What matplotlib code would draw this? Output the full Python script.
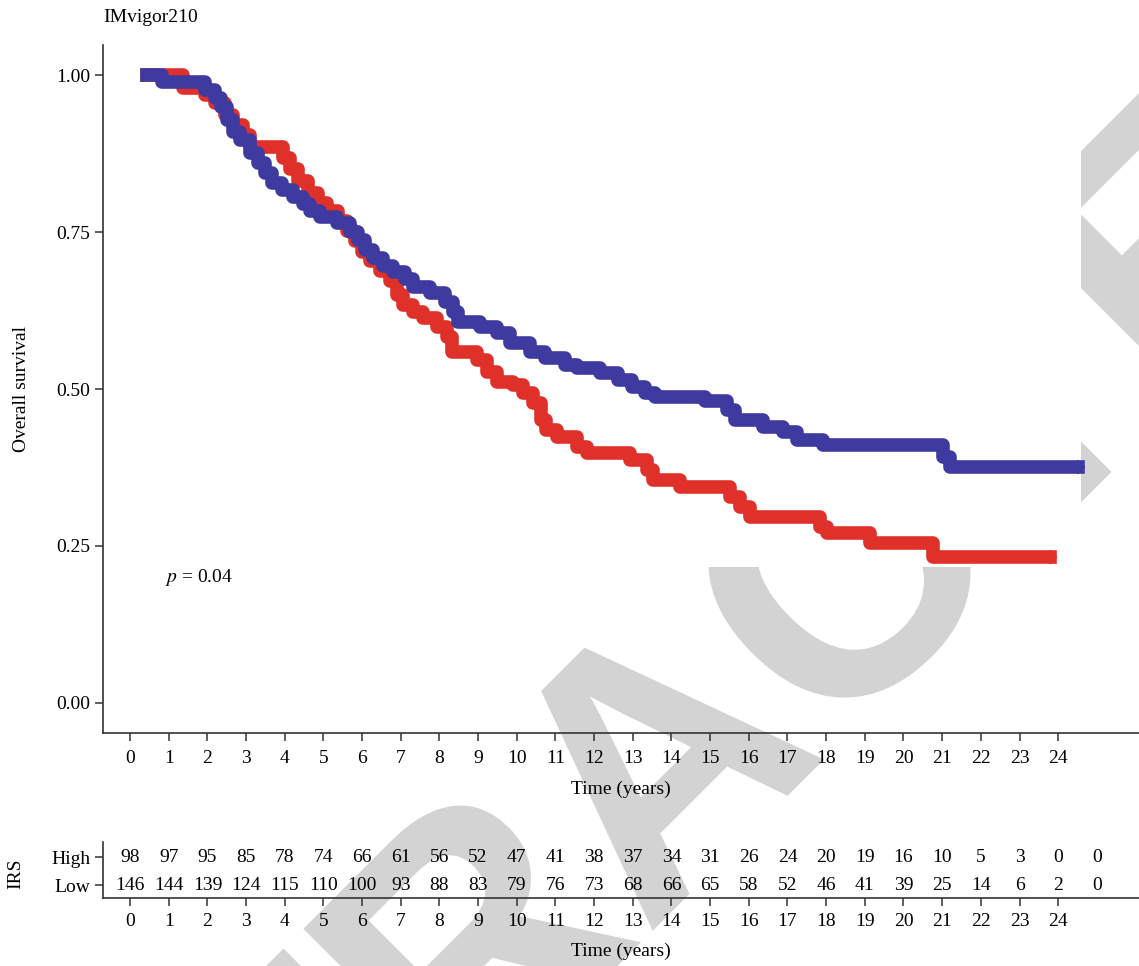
import matplotlib.pyplot as plt
import numpy as np
from matplotlib.path import Path
from matplotlib.patches import PathPatch
from matplotlib.textpath import TextPath
from matplotlib.font_manager import FontProperties
from matplotlib.transforms import Affine2D

plt.rcParams['font.family'] = ['Liberation Serif', 'DejaVu Serif']
plt.rcParams['mathtext.fontset'] = 'stix'

# Kaplan-Meier steps: time (years) of each drop and survival after it
high_t = [0.44, 1.37, 1.94, 2.20, 2.46, 2.66, 2.92, 3.10, 3.96, 4.14, 4.34, 4.60, 4.86,
          5.09, 5.38, 5.61, 5.82, 6.00, 6.21, 6.46, 6.72, 6.90, 7.06, 7.32, 7.58, 7.94,
          8.20, 8.33, 8.97, 9.23, 9.49, 9.90, 10.16, 10.42, 10.63, 10.76, 11.04, 11.56,
          11.82, 12.93, 13.37, 13.52, 14.22, 15.52, 15.77, 16.03, 17.84, 18.02, 19.14, 20.77]
high_s = [1.000, 0.979, 0.968, 0.955, 0.936, 0.920, 0.904, 0.885, 0.868, 0.850, 0.831,
          0.812, 0.796, 0.783, 0.768, 0.752, 0.735, 0.718, 0.704, 0.688, 0.672, 0.650,
          0.634, 0.623, 0.613, 0.599, 0.583, 0.559, 0.546, 0.527, 0.511, 0.506, 0.494,
          0.478, 0.451, 0.435, 0.424, 0.408, 0.398, 0.387, 0.371, 0.355, 0.344, 0.328,
          0.312, 0.296, 0.280, 0.271, 0.255, 0.232]
high_end = 23.8

low_t = [0.44, 0.83, 1.94, 2.20, 2.35, 2.51, 2.66, 2.84, 3.10, 3.31, 3.49, 3.67, 3.93,
         4.22, 4.47, 4.65, 4.91, 5.35, 5.69, 5.90, 6.08, 6.28, 6.54, 6.80, 7.11, 7.32,
         7.76, 8.15, 8.35, 8.48, 9.05, 9.49, 9.83, 10.34, 10.73, 11.25, 11.56, 12.15,
         12.62, 12.98, 13.32, 13.58, 14.87, 15.44, 15.65, 16.37, 16.89, 17.25, 17.92,
         21.02, 21.21]
low_s = [1.000, 0.989, 0.976, 0.963, 0.949, 0.928, 0.909, 0.896, 0.876, 0.860, 0.844,
         0.828, 0.817, 0.806, 0.795, 0.783, 0.774, 0.764, 0.750, 0.737, 0.721, 0.709,
         0.696, 0.686, 0.675, 0.662, 0.653, 0.639, 0.623, 0.607, 0.599, 0.589, 0.573,
         0.559, 0.549, 0.538, 0.533, 0.525, 0.514, 0.503, 0.494, 0.487, 0.481, 0.467,
         0.451, 0.440, 0.432, 0.419, 0.411, 0.392, 0.376]
low_end = 24.5

# numbers at risk
risk_times = list(range(26))
risk_high = [98, 97, 95, 85, 78, 74, 66, 61, 56, 52, 47, 41, 38, 37, 34, 31, 26, 24,
             20, 19, 16, 10, 5, 3, 0, 0]
risk_low = [146, 144, 139, 124, 115, 110, 100, 93, 88, 83, 79, 76, 73, 68, 66, 65, 58,
            52, 46, 41, 39, 25, 14, 6, 2, 0]

RED = '#E0302A'
BLUE = '#3E3A9F'
FS = 14
W, H = 1139, 966

fig = plt.figure(figsize=(W / 100, H / 100), dpi=100)
fig.patch.set_facecolor('white')

# grey "RETRACTED" stamp behind everything, hidden over the upper plot area
wm_prop = FontProperties(family='Liberation Sans', weight='bold')
wm_size = 260
tp = TextPath((0, 0), 'RETRACTED', size=wm_size, prop=wm_prop)
ext = tp.get_extents()
cx = (ext.x0 + ext.x1) / 2
em = wm_size * 100 / 72
bx, by = 559 + 0.506 * em, 659 + 0.506 * em
wm_tr = (Affine2D().translate(-cx, 0).scale(1 / 72).rotate_deg(45)
         .translate(bx / 100, (H - by) / 100) + fig.dpi_scale_trans)
wm = PathPatch(tp, transform=wm_tr, facecolor='#D3D3D3', edgecolor='none', zorder=-5)
fig.add_artist(wm)
cut_x, cut_y = 1081 / W, (H - 567) / H
clip = Path([(0, 0), (1, 0), (1, 1), (cut_x, 1), (cut_x, cut_y), (0, cut_y), (0, 0)],
            closed=True)
wm.set_clip_path(clip, fig.transFigure)

XMIN, XMAX = -0.70, 26.09

# survival panel
ax = fig.add_axes([103 / W, (H - 733) / H, 1 - 103 / W, (733 - 45) / H])
ax.set_facecolor('none')
ax.plot(high_t + [high_end], high_s + [high_s[-1]], drawstyle='steps-post',
        color=RED, lw=9.8, solid_joinstyle='round', zorder=3)
ax.plot(low_t + [low_end], low_s + [low_s[-1]], drawstyle='steps-post',
        color=BLUE, lw=9.8, solid_joinstyle='round', zorder=4)
ax.plot([high_end], [high_s[-1]], marker='+', ms=10, mew=1.5, color=RED, zorder=3)
ax.plot([low_end], [low_s[-1]], marker='+', ms=10, mew=1.5, color=BLUE, zorder=4)

ax.set_xlim(XMIN, XMAX)
ax.set_ylim(-0.048, 1.048)
ax.set_xticks(range(25))
ax.set_yticks([0, 0.25, 0.5, 0.75, 1.0])
ax.set_yticklabels(['0.00', '0.25', '0.50', '0.75', '1.00'])
ax.tick_params(labelsize=FS, length=6, width=1.1, color='#333333', pad=3)
ax.tick_params(axis='x', pad=6)
for s in ['top', 'right']:
    ax.spines[s].set_visible(False)
for s in ['left', 'bottom']:
    ax.spines[s].set_linewidth(1.2)
    ax.spines[s].set_color('#333333')
ax.set_xlabel('Time (years)', fontsize=FS, labelpad=10)
ax.text(0.9, 0.20, '$p$ = 0.04', fontsize=FS, ha='left', va='center')

fig.text(103 / W, 1 - 17 / H, 'IMvigor210', fontsize=FS, ha='left', va='center')
fig.text(22 / W, 1 - 389 / H, 'Overall survival', fontsize=FS, rotation=90,
         ha='center', va='center')

# risk table
rt = fig.add_axes([103 / W, (H - 898) / H, 1 - 103 / W, (898 - 842) / H])
rt.set_facecolor('none')
rt.set_xlim(XMIN, XMAX)
rt.set_ylim(-0.464, 1.536)
for t, hv, lv in zip(risk_times, risk_high, risk_low):
    rt.text(t, 1, str(hv), fontsize=FS, ha='center', va='center')
    rt.text(t, 0, str(lv), fontsize=FS, ha='center', va='center')
rt.set_xticks(range(25))
rt.set_yticks([1, 0])
rt.set_yticklabels(['High', 'Low'])
rt.tick_params(labelsize=FS, length=6, width=1.1, color='#333333', pad=3)
rt.tick_params(axis='x', pad=5)
for s in ['top', 'right']:
    rt.spines[s].set_visible(False)
for s in ['left', 'bottom']:
    rt.spines[s].set_linewidth(1.2)
    rt.spines[s].set_color('#333333')
rt.set_xlabel('Time (years)', fontsize=FS, labelpad=9)
fig.text(16 / W, 1 - 874 / H, 'IRS', fontsize=FS, rotation=90, ha='center', va='center')

fig.savefig('out.png', dpi=100)
